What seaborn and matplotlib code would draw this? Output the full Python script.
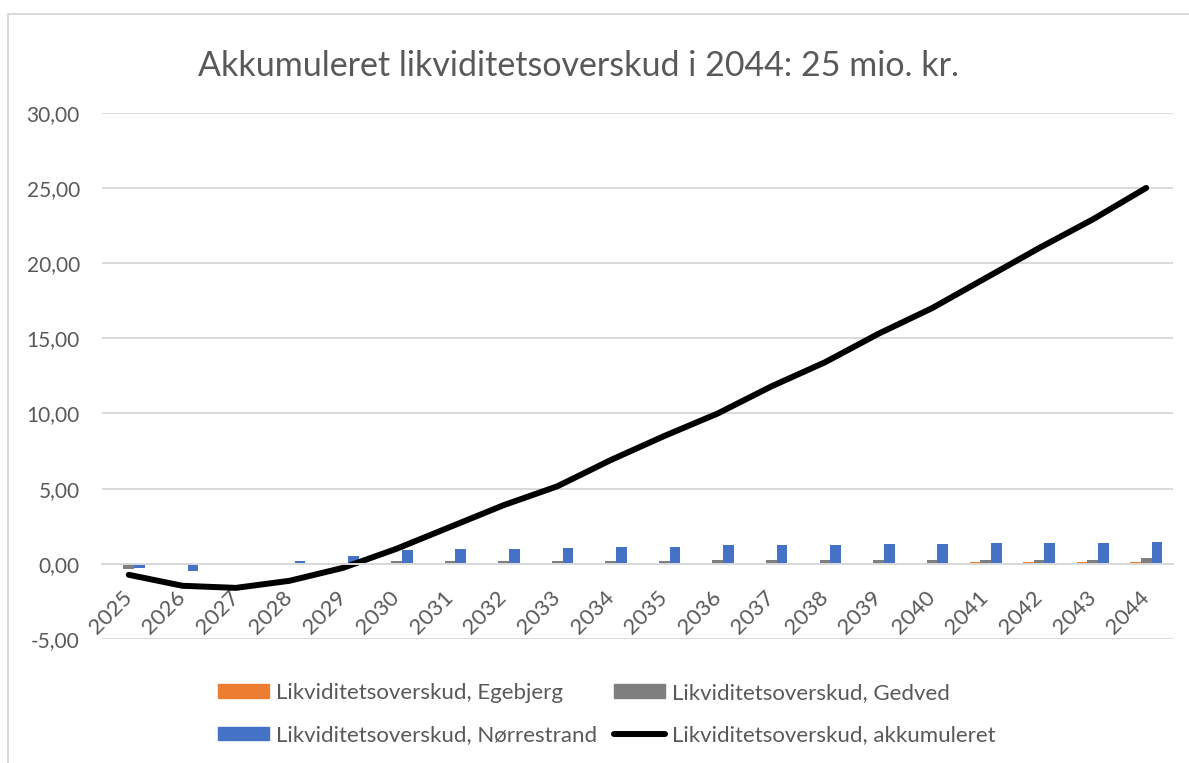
import numpy as np
import pandas as pd
import matplotlib
matplotlib.use("Agg")
import matplotlib.pyplot as plt
import seaborn as sns
from matplotlib.lines import Line2D
from matplotlib.patches import Patch

years = [str(y) for y in range(2025, 2045)]
egebjerg = [0, 0, 0, 0, 0, 0, 0, 0, 0, 0, 0, 0, 0, 0, 0, 0, 0.09, 0.09, 0.09, 0.09]
gedved = [-0.35, -0.1, 0, 0, 0.05, 0.2, 0.2, 0.2, 0.2, 0.2, 0.2, 0.27, 0.27, 0.27, 0.27, 0.27, 0.27, 0.27, 0.27, 0.38]
norrestrand = [-0.27, -0.45, 0, 0.2, 0.53, 0.95, 0.96, 0.96, 1.04, 1.13, 1.13, 1.22, 1.22, 1.22, 1.31, 1.31, 1.4, 1.4, 1.4, 1.47]
akkumuleret = [-0.73, -1.46, -1.6, -1.13, -0.27, 1.0, 2.45, 3.9, 5.15, 6.9, 8.5, 10.0, 11.8, 13.4, 15.3, 17.0, 19.0, 21.0, 22.9, 25.0]

series_names = ["Likviditetsoverskud, Egebjerg", "Likviditetsoverskud, Gedved",
                "Likviditetsoverskud, Nørrestrand"]
line_name = "Likviditetsoverskud, akkumuleret"
title = "Akkumuleret likviditetsoverskud i 2044: 25 mio. kr."

colors = ["#ED7D31", "#7F7F7F", "#4472C4"]
text_color = "#595959"
grid_color = "#D9D9D9"

df = pd.DataFrame({
    "year": years * 3,
    "value": egebjerg + gedved + norrestrand,
    "serie": [series_names[0]] * 20 + [series_names[1]] * 20 + [series_names[2]] * 20,
})

sns.set_theme(style="white")
plt.rcParams["font.family"] = ["Lato", "DejaVu Sans"]

fig = plt.figure(figsize=(11.89, 7.63), dpi=100)
ax = fig.add_axes([102 / 1189, 1 - 639 / 763, (1173 - 102) / 1189, (639 - 112.7) / 763])

sns.barplot(data=df, x="year", y="value", hue="serie", order=years, hue_order=series_names,
            palette=colors, width=0.6, gap=0, linewidth=0, saturation=1, ax=ax,
            legend=False, errorbar=None)
sns.lineplot(x=np.arange(len(years)), y=akkumuleret, color="black", linewidth=4.3,
             ax=ax, solid_capstyle="round", solid_joinstyle="round", legend=False)

ax.spines["bottom"].set_position(("data", 0))
ax.spines["bottom"].set_color(grid_color)
ax.spines["bottom"].set_linewidth(1.4)
for s in ["left", "right", "top"]:
    ax.spines[s].set_visible(False)

ax.set_xlim(-0.5, len(years) - 0.5)
ax.set_ylim(-5, 30)
yt = np.arange(-5, 31, 5)
ax.set_yticks(yt)
ax.set_yticklabels([f"{v:.2f}".replace(".", ",") for v in yt], color=text_color, fontsize=15)
ax.yaxis.grid(True, color=grid_color, linewidth=1.4)
ax.set_axisbelow(True)
ax.tick_params(axis="y", length=0, pad=16)

ax.set_xticks(np.arange(len(years)))
ax.set_xticklabels(years, rotation=45, ha="right", va="center", rotation_mode="anchor",
                   color=text_color, fontsize=16)
ax.tick_params(axis="x", length=0, pad=22)
ax.set_xlabel("")
ax.set_ylabel("")

fig.text(578 / 1189, 1 - 66 / 763, title, ha="center", va="center",
         fontsize=24.5, color=text_color)

handles = [Patch(color=colors[0], label=series_names[0]),
           Patch(color=colors[2], label=series_names[2]),
           Patch(color=colors[1], label=series_names[1]),
           Line2D([0], [0], color="black", linewidth=4.3, solid_capstyle="round", label=line_name)]
leg = fig.legend(handles=handles, ncol=2, loc="center", bbox_to_anchor=(607 / 1189, 1 - 714 / 763),
                 frameon=False, fontsize=16, handlelength=2.3, handleheight=0.55,
                 columnspacing=0.77, handletextpad=0.3, labelspacing=1.0,
                 borderpad=0, borderaxespad=0)
for t in leg.get_texts():
    t.set_color(text_color)

fig.add_artist(Line2D([8 / 1189, 8 / 1189], [0, 1 - 14 / 763], color=grid_color, linewidth=1.4,
                      transform=fig.transFigure))
fig.add_artist(Line2D([8 / 1189, 1], [1 - 14 / 763, 1 - 14 / 763], color=grid_color, linewidth=1.4,
                      transform=fig.transFigure))

fig.savefig("out.png", dpi=100)
